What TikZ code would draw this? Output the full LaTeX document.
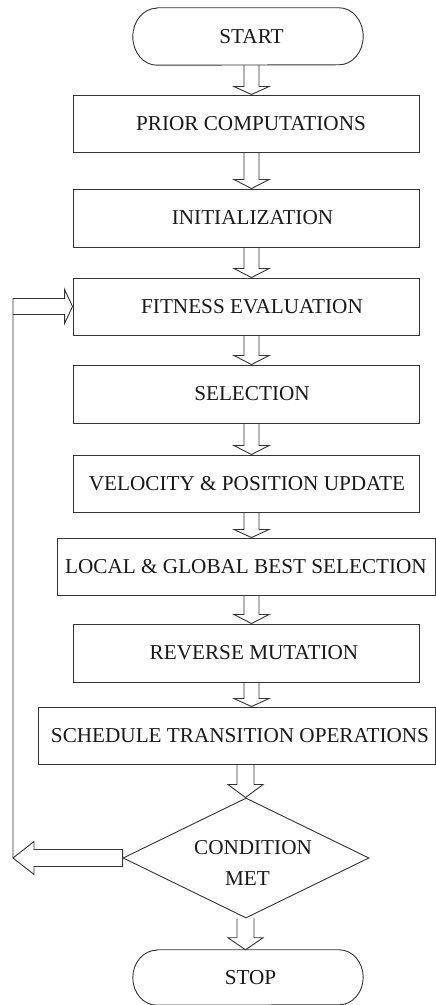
\documentclass[tikz,border=0pt]{standalone}
\usepackage{fontspec}
\setmainfont{Liberation Serif}
\usetikzlibrary{shapes.geometric,calc}
\newcommand\shx[2]{\hspace*{#1pt}#2\hspace*{-#1pt}}
\begin{document}
\begin{tikzpicture}[x=1pt,y=1pt,
  lbl/.style={font=\fontsize{21.2}{24}\selectfont,text=black!90},
  box/.style={lbl,draw=black!80,line width=0.9pt,rectangle,minimum height=57pt,inner sep=0pt},
  termnode/.style={lbl,rectangle,minimum width=230pt,minimum height=57pt,inner sep=0pt},
  line/.style={draw=black!80,line width=0.9pt},
  blk/.style={line,line join=miter},
  cond/.style={lbl,draw=black!80,line width=0.9pt,diamond,aspect=2.05,minimum width=246pt,minimum height=120pt,inner sep=0pt,align=center,font=\fontsize{21.2}{31}\selectfont}]
\useasboundingbox (0,0) rectangle (436,1005);
\fill[white] (0,0) rectangle (436,1005);

% nodes
\node[termnode] (start) at (248,968.5) {\shx{3.5}{START}};
\node[box,minimum width=346pt] (prior) at (246,881.5) {\shx{5}{PRIOR COMPUTATIONS}};
\node[box,minimum width=346pt,minimum height=58pt] (init) at (246,787) {\shx{6.5}{INITIALIZATION}};
\node[box,minimum width=346pt] (fit) at (246,698.5) {\shx{6}{FITNESS EVALUATION}};
\node[box,minimum width=346pt,minimum height=58pt] (sel) at (246,611) {\shx{6}{SELECTION}};
\node[box,minimum width=346pt] (vel) at (246,521.5) {\shx{1}{VELOCITY \& POSITION UPDATE}};
\node[box,minimum width=378pt] (loc) at (246,438.5) {LOCAL \& GLOBAL BEST SELECTION};
\node[box,minimum width=346pt,minimum height=58pt] (rev) at (246,352) {\shx{8}{REVERSE MUTATION}};
\node[box,minimum width=397pt] (sch) at (236.5,269.5) {\shx{3.5}{SCHEDULE TRANSITION OPERATIONS}};
\node[cond] (cnd) at (246,147) {\rule{0pt}{25pt}\shx{7}{CONDITION}\\\shx{1.5}{MET}};
\node[termnode,minimum height=55pt] (stop) at (248,27.5) {\shx{2.5}{STOP}};

% terminal outlines
\draw[line] ([xshift=24pt]start.north west) -- ([xshift=-24pt]start.north east)
  arc[start angle=90,end angle=-90,x radius=24pt,y radius=28.5pt]
  -- ([xshift=24pt]start.south west)
  arc[start angle=270,end angle=90,x radius=24pt,y radius=28.5pt] -- cycle;
\draw[line] ([xshift=24pt]stop.north west) -- ([xshift=-24pt]stop.north east)
  arc[start angle=90,end angle=-90,x radius=24pt,y radius=27.5pt]
  -- ([xshift=24pt]stop.south west)
  arc[start angle=270,end angle=90,x radius=24pt,y radius=27.5pt] -- cycle;

% block arrows (down)
\newcommand\blkdown[6]{% src, tgt, x, shaft half, head half, head len
  \draw[blk] let \p1=(#1.south), \p2=(#2.north) in
    (#3pt-#4pt,\y1) -- (#3pt-#4pt,\y2+#6pt) -- (#3pt-#5pt,\y2+#6pt) -- (#3pt,\y2)
    -- (#3pt+#5pt,\y2+#6pt) -- (#3pt+#4pt,\y2+#6pt) -- (#3pt+#4pt,\y1);}
\blkdown{start}{prior}{251.5}{7.5}{17.5}{8}
\blkdown{prior}{init}{251.5}{7.5}{17.5}{9}
\blkdown{init}{fit}{251.5}{7.5}{17.5}{9}
\blkdown{fit}{sel}{251.5}{7.5}{17.5}{9}
\blkdown{sel}{vel}{251.5}{7.5}{17.5}{9}
\blkdown{vel}{loc}{251.5}{7.5}{17.5}{8}
\blkdown{loc}{rev}{251.5}{7.5}{17.5}{9}
\blkdown{rev}{sch}{251.5}{7.5}{17.5}{8}
\blkdown{sch}{cnd}{245.5}{8.5}{17.5}{13}
\blkdown{cnd}{stop}{245.5}{8.5}{17.5}{12}

% loop back: condition -> left
\draw[blk] let \p1=(cnd.west) in
  (\x1,\y1-8.5pt) -- (34pt,\y1-8.5pt) -- (34pt,\y1-16.5pt) -- (13pt,\y1)
  -- (34pt,\y1+16.5pt) -- (34pt,\y1+8.5pt) -- (\x1,\y1+8.5pt) -- cycle;
% loop back: up and into fitness evaluation
\draw[blk] let \p1=(cnd.west), \p2=(fit.west) in
  (13pt,\y1) -- (13pt,\y2+8pt) -- (\x2-8pt,\y2+8pt) -- (\x2-8pt,\y2+17pt) -- (\p2)
  -- (\x2-8pt,\y2-17pt) -- (\x2-8pt,\y2-8pt) -- (13pt,\y2-8pt);
\end{tikzpicture}
\end{document}
